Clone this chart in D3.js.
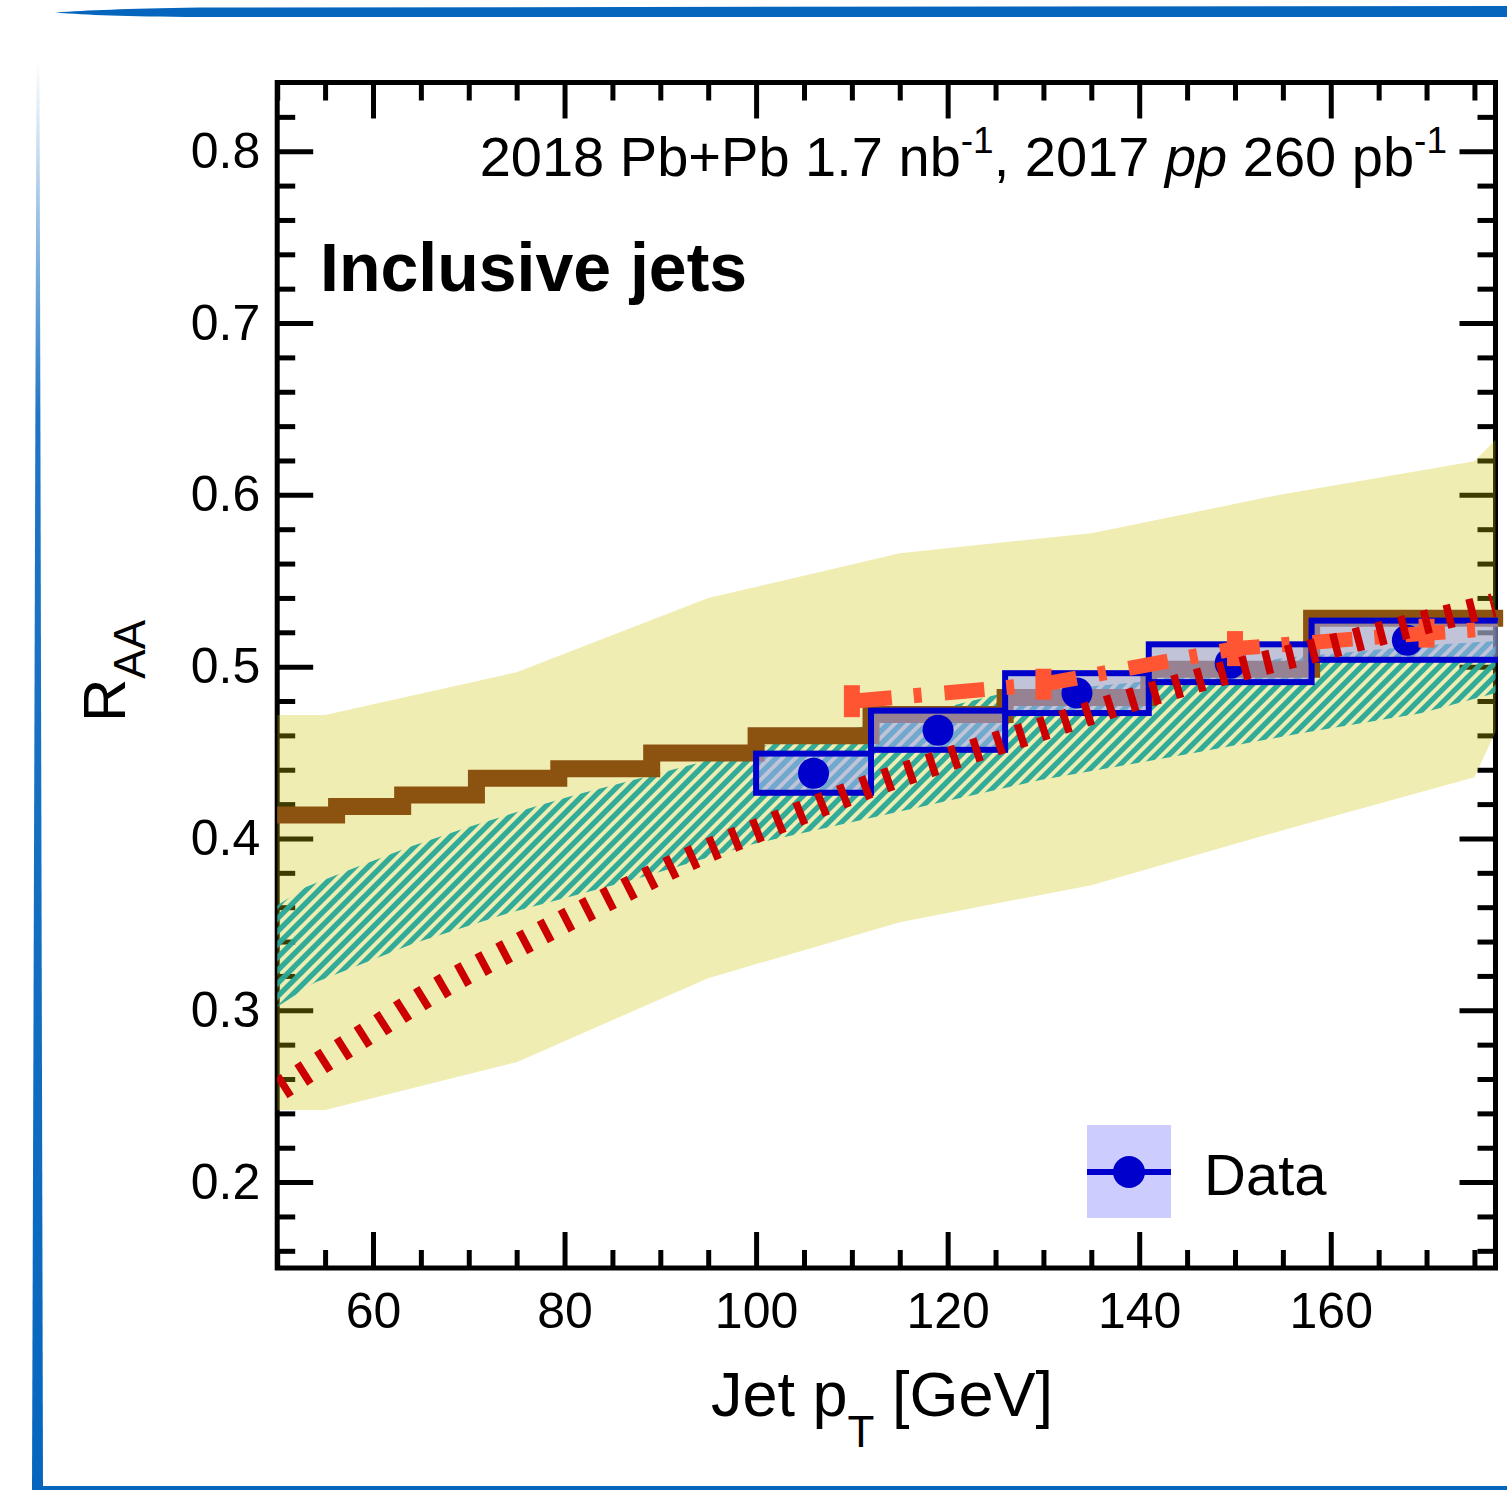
<!DOCTYPE html>
<html><head><meta charset="utf-8">
<script src="https://cdn.jsdelivr.net/npm/d3@7"></script>
<style>
body{margin:0;background:#fff}
svg{display:block}
text{font-family:"Liberation Sans",Arial,Helvetica,sans-serif;fill:#000}
</style>
</head><body>
<svg id="c" width="1507" height="1490"></svg>
<script>
// ---------------- data ----------------
const xTicks=[60,80,100,120,140,160];
const yTicks=[0.2,0.3,0.4,0.5,0.6,0.7,0.8];

// ATLAS data points
const binEdges=[100,112,126,141,158,178];
const dataX=[106,119,133.5,149.5,168];
const dataY=[0.438,0.463,0.4846,0.502,0.5154];
const dataSyst=[0.0114,0.0114,0.0116,0.0110,0.0114];

// Yellow theory band
const yellowX=[50,55,75,95,115,135,155,175,177.2];
const yellowLo=[0.242,0.242,0.2698,0.3187,0.3513,0.3728,0.4048,0.4357,0.462];
const yellowHi=[0.4718,0.4718,0.4968,0.5399,0.566,0.5777,0.6004,0.6196,0.632];

// Teal hatched band
const tealHiX=[50,53,57.5,63.8,69.9,75.7,81,88.3,101,113,125,140,155,170,177.2];
const tealHiY=[0.361,0.3717,0.3816,0.395,0.4066,0.4165,0.4252,0.4357,0.4543,0.467,0.4835,0.491,0.505,0.5125,0.515];
const tealLoX=[50,53.9,64.3,74.1,87.2,99.8,116.9,129.7,145.7,156.9,169.4,177.2];
const tealLoY=[0.302,0.316,0.339,0.3565,0.376,0.397,0.418,0.434,0.4497,0.4613,0.4729,0.4846];

// Brown step histogram
const brownEdges=[50,56.2,63.1,70.8,79.4,89.1,100,112,126,141,158,178];
const brownY=[0.4136,0.4186,0.4253,0.435,0.4406,0.4497,0.4598,0.4721,0.482,0.4985,0.5282];

// Orange dash-dot curve with error bars
const orangeX=[110,130,150,170,178];
const orangeY=[0.4799,0.4898,0.5105,0.5195,0.5225];
const orangeErr=[0.0093,0.0090,0.0102,0.0084,0];

// Red dotted curve
const redX=[50.4,58.6,66.9,75.8,84.3,93.2,102.3,111.3,120.7,130.1,139.5,148.9,158.5,167.8,177.0];
const redY=[0.2547,0.2838,0.3129,0.3397,0.3641,0.3886,0.4095,0.4293,0.4473,0.4642,0.4811,0.4962,0.5096,0.5230,0.5358];

const legendLabels=["Data"];

// ---------------- layout ----------------
const X0=277.2, X1=1495.5, Y0=82.5, Y1=1268;
const x=d3.scaleLinear().domain([50,177.2]).range([X0,X1]);
const y=d3.scaleLinear().domain([0.15,0.84]).range([Y1,Y0]);

const svg=d3.select("#c");
const defs=svg.append("defs");

// decorative blue slide frame
const blue="rgb(6,102,190)";
const lg=defs.append("linearGradient").attr("id","lgrad").attr("x1",0).attr("y1",0).attr("x2",0).attr("y2",1);
lg.append("stop").attr("offset","0").attr("stop-color",blue).attr("stop-opacity",0);
lg.append("stop").attr("offset","0.25").attr("stop-color",blue).attr("stop-opacity",0.9);
lg.append("stop").attr("offset","1").attr("stop-color",blue).attr("stop-opacity",1);
svg.append("path").attr("d","M36.5,60 L39.5,60 L43,1490 L32,1490 Z").attr("fill","url(#lgrad)");
svg.append("path").attr("d","M55,12.5 C90,10 120,9 200,7.5 L1507,6 L1507,17 L200,17 C120,16.5 90,15 55,12.5 Z").attr("fill",blue);
svg.append("rect").attr("x",32).attr("y",1486).attr("width",1475).attr("height",4).attr("fill",blue);

// clips
defs.append("clipPath").attr("id","clipBand").append("rect")
  .attr("x",X0).attr("y",Y0).attr("width",1497-X0).attr("height",Y1-Y0);
defs.append("clipPath").attr("id","clipMark").append("rect")
  .attr("x",X0).attr("y",Y0-3).attr("width",1498-X0).attr("height",Y1-Y0+6);

// hatch pattern
const pat=defs.append("pattern").attr("id","hatch").attr("patternUnits","userSpaceOnUse")
  .attr("width",13).attr("height",13);
pat.append("path").attr("d","M-3,16 L16,-3 M-6,6 L6,-6 M7,19 L19,7")
  .attr("stroke","rgb(40,168,152)").attr("stroke-opacity",0.95).attr("stroke-width",5.4);

// ---------------- axes / frame (drawn first, bands overlay them) ----------------
const axG=svg.append("g");
function styleAxis(g){
  g.select(".domain").remove();
  g.selectAll(".tick line").attr("stroke","#000").attr("stroke-width",5);
  g.selectAll(".tick text").attr("font-size",50).attr("font-family",'"Liberation Sans",Arial,sans-serif').attr("fill","#000");
}
const xMinor=d3.range(10,36).map(i=>i*5).filter(v=>v%20!==0);
const yMinor=d3.range(8,42).map(i=>+(i*0.02).toFixed(2)).filter((v,i)=>(i+8)%5!==0);

axG.append("g").attr("transform",`translate(0,${Y1})`)
  .call(d3.axisBottom(x).tickValues(xTicks).tickSize(-36).tickPadding(24).tickFormat(d3.format("d"))).call(styleAxis);
axG.append("g").attr("transform",`translate(0,${Y1})`)
  .call(d3.axisBottom(x).tickValues(xMinor).tickSize(-18).tickFormat("")).call(styleAxis);
axG.append("g").attr("transform",`translate(0,${Y0})`)
  .call(d3.axisTop(x).tickValues(xTicks).tickSize(-36).tickFormat("")).call(styleAxis);
axG.append("g").attr("transform",`translate(0,${Y0})`)
  .call(d3.axisTop(x).tickValues(xMinor).tickSize(-18).tickFormat("")).call(styleAxis);
axG.append("g").attr("transform",`translate(${X0},0)`)
  .call(d3.axisLeft(y).tickValues(yTicks).tickSize(-36).tickPadding(17).tickFormat(d3.format(".1f"))).call(styleAxis);
axG.append("g").attr("transform",`translate(${X0},0)`)
  .call(d3.axisLeft(y).tickValues(yMinor).tickSize(-18).tickFormat("")).call(styleAxis);
axG.append("g").attr("transform",`translate(${X1},0)`)
  .call(d3.axisRight(y).tickValues(yTicks).tickSize(-36).tickFormat("")).call(styleAxis);
axG.append("g").attr("transform",`translate(${X1},0)`)
  .call(d3.axisRight(y).tickValues(yMinor).tickSize(-18).tickFormat("")).call(styleAxis);
axG.append("rect").attr("x",X0).attr("y",Y0).attr("width",X1-X0).attr("height",Y1-Y0)
  .attr("fill","none").attr("stroke","#000").attr("stroke-width",5);

// ---------------- bands ----------------
const bandG=svg.append("g").attr("clip-path","url(#clipBand)");
const area=d3.area().x(d=>x(d[0])).y0(d=>y(d[1])).y1(d=>y(d[2]));
bandG.append("path")
  .attr("d",area(yellowX.map((v,i)=>[v,yellowLo[i],yellowHi[i]])))
  .attr("fill","rgb(204,197,0)").attr("fill-opacity",0.3);

const up=tealHiX.map((v,i)=>[v,tealHiY[i]]);
const lo=tealLoX.map((v,i)=>[v,tealLoY[i]]);
const polyPts=up.concat(lo.slice().reverse());
bandG.append("path")
  .attr("d",d3.line().x(d=>x(d[0])).y(d=>y(d[1]))(polyPts)+"Z")
  .attr("fill","url(#hatch)");

// ---------------- brown step ----------------
const brownPts=brownEdges.map((e,i)=>[e, i<brownY.length?brownY[i]:brownY[brownY.length-1]]);
svg.append("path")
  .attr("d",d3.line().x(d=>x(d[0])).y(d=>y(d[1])).curve(d3.curveStepAfter)(brownPts))
  .attr("fill","none").attr("stroke","rgb(139,82,16)").attr("stroke-width",17).attr("stroke-linejoin","miter");

// ---------------- data boxes ----------------
const markG=svg.append("g").attr("clip-path","url(#clipMark)");
markG.selectAll("rect.sys").data(dataY).join("rect").attr("class","sys")
  .attr("x",(d,i)=>x(binEdges[i])).attr("width",(d,i)=>x(binEdges[i+1])-x(binEdges[i]))
  .attr("y",(d,i)=>y(d+dataSyst[i])).attr("height",(d,i)=>y(d-dataSyst[i])-y(d+dataSyst[i]))
  .attr("fill","rgb(158,166,243)").attr("fill-opacity",0.58)
  .attr("stroke","#0000cc").attr("stroke-width",6);
markG.selectAll("circle.pt").data(dataY).join("circle").attr("class","pt")
  .attr("cx",(d,i)=>x(dataX[i])).attr("cy",d=>y(d)).attr("r",15.5).attr("fill","#0000cc");

// ---------------- orange dash-dot ----------------
const orange="rgb(255,85,51)";
markG.append("path")
  .attr("d",d3.line().x(d=>x(d[0])).y(d=>y(d[1]))(orangeX.map((v,i)=>[v,orangeY[i]])))
  .attr("fill","none").attr("stroke",orange).attr("stroke-width",15)
  .attr("stroke-dasharray","40 22 8 23");
markG.selectAll("line.oerr").data(orangeY.filter((d,i)=>orangeErr[i]>0)).join("line").attr("class","oerr")
  .attr("x1",(d,i)=>x(orangeX[i])).attr("x2",(d,i)=>x(orangeX[i]))
  .attr("y1",(d,i)=>y(d-orangeErr[i])).attr("y2",(d,i)=>y(d+orangeErr[i]))
  .attr("stroke",orange).attr("stroke-width",16);

// ---------------- red dotted ----------------
markG.append("path")
  .attr("d",d3.line().x(d=>x(d[0])).y(d=>y(d[1])).curve(d3.curveMonotoneX)(redX.map((v,i)=>[v,redY[i]])))
  .attr("fill","none").attr("stroke","rgb(204,0,0)").attr("stroke-width",24)
  .attr("stroke-dasharray","7.5 15.9");

// ---------------- texts ----------------
const hdr=svg.append("text").attr("x",1447).attr("y",176).attr("text-anchor","end").attr("font-size",56);
hdr.append("tspan").text("2018 Pb+Pb 1.7 nb");
hdr.append("tspan").attr("font-size",37).attr("dy",-23).text("-1");
hdr.append("tspan").attr("dy",23).text(", 2017 ");
hdr.append("tspan").attr("font-style","italic").text("pp");
hdr.append("tspan").text(" 260 pb");
hdr.append("tspan").attr("font-size",37).attr("dy",-23).text("-1");

svg.append("text").attr("x",320).attr("y",291).attr("font-size",68).attr("font-weight","bold").text("Inclusive jets");

const xt=svg.append("text").attr("x",711).attr("y",1416).attr("font-size",63);
xt.append("tspan").text("Jet p");
xt.append("tspan").attr("font-size",44).attr("dy",31).text("T");
xt.append("tspan").attr("dy",-31).text(" [GeV]");

const yt=svg.append("text").attr("transform","translate(125,671) rotate(-90)").attr("text-anchor","middle").attr("font-size",60);
yt.append("tspan").text("R");
yt.append("tspan").attr("font-size",44).attr("dy",20).text("AA");

// ---------------- legend ----------------
const lgG=svg.append("g");
legendLabels.forEach((lab,i)=>{
  lgG.append("rect").attr("x",1087).attr("y",1125).attr("width",84).attr("height",93).attr("fill","#ccccff");
  lgG.append("line").attr("x1",1087).attr("x2",1171).attr("y1",1172).attr("y2",1172).attr("stroke","#0000cc").attr("stroke-width",6);
  lgG.append("circle").attr("cx",1129).attr("cy",1172).attr("r",16).attr("fill","#0000cc");
  lgG.append("text").attr("x",1204).attr("y",1195).attr("font-size",58).text(lab);
});
</script>
</body></html>
